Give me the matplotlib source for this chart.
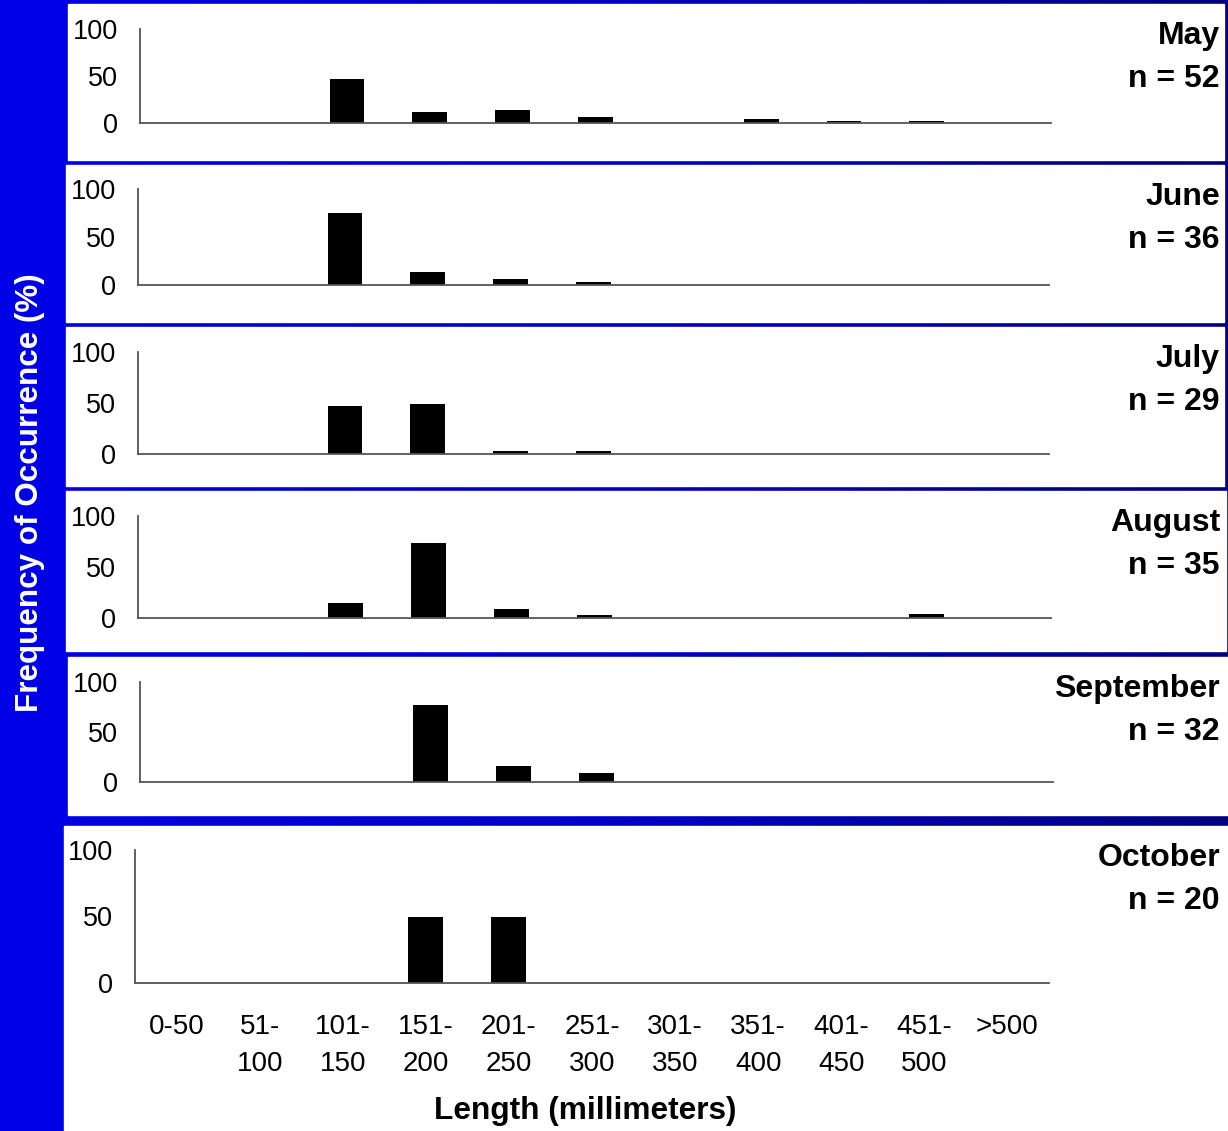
import numpy as np
import matplotlib
matplotlib.use('Agg')
import matplotlib.pyplot as plt
from matplotlib.patches import Rectangle

matplotlib.rcParams['font.family'] = ['Liberation Sans', 'DejaVu Sans']

# data ------------------------------------------------------------
bins = ['0-50', '51-\n100', '101-\n150', '151-\n200', '201-\n250', '251-\n300',
        '301-\n350', '351-\n400', '401-\n450', '451-\n500', '>500']
months = ['May', 'June', 'July', 'August', 'September', 'October']
n_fish = [52, 36, 29, 35, 32, 20]

may = [0, 0, 47, 12, 14, 6, 0, 4, 2, 2, 0]
june = [0, 0, 75, 14, 6, 3, 0, 0, 0, 0, 0]
july = [0, 0, 47, 49, 3, 3, 0, 0, 0, 0, 0]
august = [0, 0, 15, 74, 9, 3, 0, 0, 0, 4, 0]
september = [0, 0, 0, 77, 16, 9, 0, 0, 0, 0, 0]
october = [0, 0, 0, 50, 50, 0, 0, 0, 0, 0, 0]
freqs = [may, june, july, august, september, october]

# layout (pixels) -------------------------------------------------
W, H = 1228, 1131
# white panel boxes: x0, y0(top), x1, y1(bottom)
panels = [(68, 4, 1224, 160), (66, 165, 1224, 322), (66, 327, 1224, 486),
          (66, 491, 1226, 651), (68, 657, 1228, 815), (64, 826, 1228, 1131)]
# axes boxes: x0, ytop(=100), x1, ybottom(=0)
axboxes = [(140, 29, 1051, 123), (138, 189, 1049, 285), (138, 352, 1049, 454),
           (138, 516, 1051, 618), (140, 682, 1053, 782), (135, 850, 1049, 983)]

fig = plt.figure(figsize=(W / 100, H / 100), dpi=100)

# blue gradient background
bg = fig.add_axes([0, 0, 1, 1])
grad = np.linspace(0, 1, 256)[None, :]
cmap = matplotlib.colors.LinearSegmentedColormap.from_list('bg', ['#0000e6', '#0000c8', '#000080'])
bg.imshow(grad, aspect='auto', cmap=cmap, extent=[0, W, H, 0])
bg.add_patch(Rectangle((0, 0), 65, H, color='#0000e6'))
for x0, y0, x1, y1 in panels:
    bg.add_patch(Rectangle((x0, y0), x1 - x0, y1 - y0, color='white'))
bg.set_xlim(0, W)
bg.set_ylim(H, 0)
bg.axis('off')

x = np.arange(len(bins))
for i, (box, pnl) in enumerate(zip(axboxes, panels)):
    x0, yt, x1, yb = box
    ax = fig.add_axes([x0 / W, 1 - yb / H, (x1 - x0) / W, (yb - yt) / H])
    ax.bar(x, freqs[i], width=0.42, color='black')
    ax.set_xlim(-0.5, len(bins) - 0.5)
    ax.set_ylim(0, 100)
    ax.set_yticks([0, 50, 100])
    ax.tick_params(axis='y', length=0, labelsize=19.5, pad=16)
    ax.spines['top'].set_visible(False)
    ax.spines['right'].set_visible(False)
    for s in ['left', 'bottom']:
        ax.spines[s].set_color('#555555')
        ax.spines[s].set_linewidth(1.3)
    ax.set_facecolor('none')
    if i == len(axboxes) - 1:
        ax.set_xticks(x)
        ax.set_xticklabels(bins, fontsize=20, linespacing=1.55)
        ax.tick_params(axis='x', length=0, pad=22)
    else:
        ax.set_xticks([])
    # month and n labels
    fig.text(1220 / W, 1 - (pnl[1] + 32) / H, months[i], ha='right', va='center',
             fontsize=23, fontweight='bold')
    fig.text(1220 / W, 1 - (pnl[1] + 75) / H, 'n = %d' % n_fish[i], ha='right', va='center',
             fontsize=23, fontweight='bold')

fig.text(585 / W, 1 - 1111 / H, 'Length (millimeters)', ha='center', va='center',
         fontsize=22.8, fontweight='bold')
fig.text(30 / W, 1 - 493 / H, 'Frequency of Occurrence (%)', ha='center', va='center',
         rotation=90, fontsize=22.6, fontweight='bold', color='white')

fig.savefig('out.png', dpi=100)
